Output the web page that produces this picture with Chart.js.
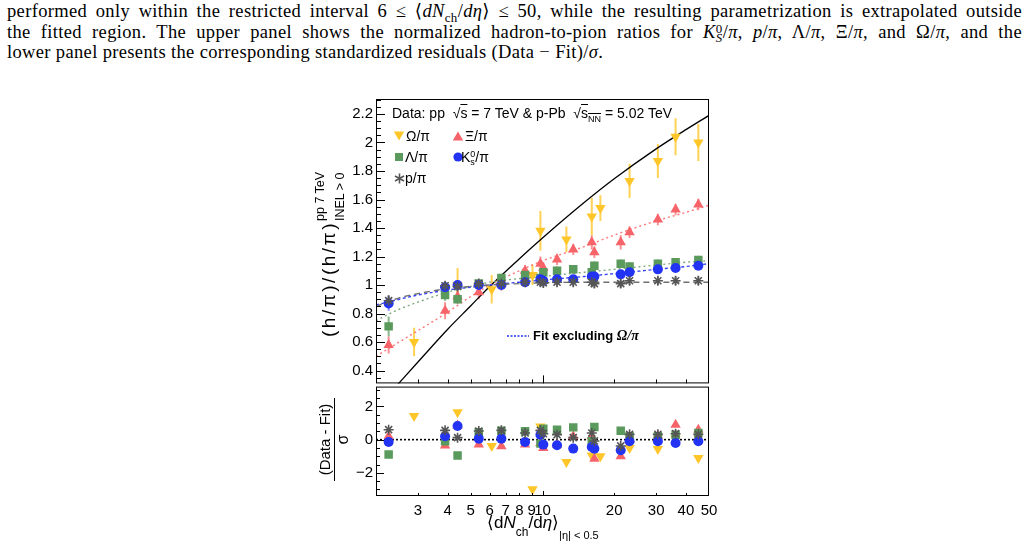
<!DOCTYPE html>
<html lang="en">
<head>
<meta charset="UTF-8">
<title>Hadron-to-pion ratios vs multiplicity</title>
<script src="https://cdn.jsdelivr.net/npm/chart.js"></script>
<style>
  * { margin: 0; padding: 0; box-sizing: border-box; }
  body {
    width: 1028px; height: 547px; position: relative; overflow: hidden;
    background: #fff; color: #000;
    font-family: 'Liberation Sans', Arial, sans-serif;
  }
  .para {
    position: absolute; left: 7px; top: 1px; width: 1015px;
    font-family: 'Liberation Serif', 'DejaVu Serif', serif;
    font-size: 18.5px; line-height: 20.5px; letter-spacing: 0.35px;
  }
  .para .j { text-align: justify; text-align-last: justify; }
  .para sub, .para sup { font-size: 0.7em; line-height: 0; }
  .ss { display: inline-block; font-size: 0.7em; line-height: 9px; vertical-align: -4px; }
  .ss span { display: block; }
  .box { position: absolute; }
  .rot { position: absolute; transform-origin: 0 0; transform: rotate(-90deg); white-space: nowrap; }
  .lbl { position: absolute; white-space: nowrap; line-height: 16px; }
  .mk { position: absolute; }
</style>
</head>
<body>

<div class="para">
  <div class="j">performed only within the restricted interval 6 &le; &lang;<i>dN</i><sub>ch</sub>/<i>d&eta;</i>&rang; &le; 50, while the resulting parametrization is extrapolated outside</div>
  <div class="j">the fitted region. The upper panel shows the normalized hadron-to-pion ratios for <i>K</i><span class="ss"><span>0</span><span><i>S</i></span></span>/<i>&pi;</i>, <i>p</i>/<i>&pi;</i>, &Lambda;/<i>&pi;</i>, &Xi;/<i>&pi;</i>, and &Omega;/<i>&pi;</i>, and the</div>
  <div>lower panel presents the corresponding standardized residuals (Data &minus; Fit)/<i>&sigma;</i>.</div>
</div>

<div class="box" style="left:300px; top:90px;"><canvas id="upper" width="420" height="300"></canvas></div>
<div class="box" style="left:300px; top:380px;"><canvas id="lower" width="420" height="167"></canvas></div>

<!-- legend -->
<div class="lbl" style="left:392px; top:105px; font-size:14px;">Data: pp &nbsp;&radic;<span style="text-decoration:overline">s</span> = 7 TeV &amp; p-Pb &nbsp;&radic;<span style="text-decoration:overline">s<sub style="font-size:9px">NN</sub></span> = 5.02 TeV</div>

<svg class="mk" style="left:393px; top:130px;" width="12" height="12"><polygon points="0.8,1.5 11.2,1.5 6,10.5" fill="#ffc629"/></svg>
<div class="lbl" style="left:406px; top:128px; font-size:14px;">&Omega;/&pi;</div>
<svg class="mk" style="left:452px; top:130px;" width="12" height="12"><polygon points="0.8,10.5 11.2,10.5 6,1.5" fill="#f6646a"/></svg>
<div class="lbl" style="left:465px; top:128px; font-size:14px;">&Xi;/&pi;</div>

<svg class="mk" style="left:394px; top:152px;" width="10" height="10"><rect x="1" y="1" width="8" height="8" fill="#5a9a5c"/></svg>
<div class="lbl" style="left:405px; top:149px; font-size:14px;">&Lambda;/&pi;</div>
<svg class="mk" style="left:453px; top:152px;" width="10" height="10"><circle cx="5" cy="5" r="4.6" fill="#2233f4"/></svg>
<div class="lbl" style="left:461px; top:149px; font-size:14px;">K<span class="ss" style="font-size:9px;line-height:8px;vertical-align:-3px"><span>0</span><span>s</span></span>/&pi;</div>

<svg class="mk" style="left:394px; top:173px;" width="11" height="11"><g stroke="#555" stroke-width="1.6"><line x1="5.5" y1="0.5" x2="5.5" y2="10.5"/><line x1="1" y1="3" x2="10" y2="8"/><line x1="1" y1="8" x2="10" y2="3"/></g></svg>
<div class="lbl" style="left:405px; top:170px; font-size:14px;">p/&pi;</div>

<svg class="mk" style="left:507px; top:334px;" width="22" height="4"><line x1="0" y1="2" x2="22" y2="2" stroke="#2233f4" stroke-width="1.3" stroke-dasharray="2,1.5"/></svg>
<div class="lbl" style="left:533px; top:328px; font-size:13px; font-weight:bold;">Fit excluding <i style="font-family:'Liberation Serif',serif;font-size:14px">&Omega;/&pi;</i></div>

<!-- axis titles -->
<div class="rot" style="left:312px; top:337px; height:34px; display:flex; align-items:center;">
  <span style="font-size:19px; line-height:20px; letter-spacing:2.5px;">(h/&pi;)/(h/&pi;)</span>
  <span style="display:inline-flex; flex-direction:column; row-gap:7px; font-size:12.5px; line-height:13px; position:relative; top:1px; margin-left:0px;">
    <span>pp 7 TeV</span><span>INEL &gt; 0</span>
  </span>
</div>

<div class="rot" style="left:316px; top:481px; width:83px; height:34px;">
  <div style="position:absolute; left:0; top:0; width:83px; text-align:center; font-size:15px; line-height:17px;">(Data - Fit)</div>
  <div style="position:absolute; left:0; top:18px; width:83px; height:1px; background:#000;"></div>
  <div style="position:absolute; left:0; top:19px; width:83px; text-align:center; font-size:16px; line-height:16px;">&sigma;</div>
</div>

<div class="lbl" style="left:487px; top:513px; font-size:17px; line-height:20px;">&lang;d<i>N</i><span style="font-size:12px; position:relative; top:8px;">ch</span>/d<i>&eta;</i>&rang;<span style="font-size:11px; position:relative; top:11px;">|&eta;| &lt; 0.5</span></div>

<script>
// multiplicity classes, <dNch/deta> (pp 7 TeV and p-Pb 5.02 TeV merged)
const xMult  = [2.26, 3.90, 4.4, 5.40, 6.72, 8.45, 9.8, 10.08, 11.51, 13.46, 16.1, 16.51, 21.3, 23.2, 30.5, 36.2, 45.1];
const xOmega = [2.89, 4.4, 6.12, 9.08, 9.8, 12.6, 16.1, 17.5, 23.2, 30.5, 36.2, 45.1];

// normalized ratios (upper panel)
const ratioOmega  = [0.60, 1.00, 0.97, 1.07, 1.38, 1.32, 1.48, 1.54, 1.73, 1.87, 2.04, 2.00];
const errOmega    = [0.10, 0.12, 0.10, 0.07, 0.14, 0.09, 0.13, 0.09, 0.12, 0.12, 0.13, 0.13];
const ratioXi     = [0.58, 0.82, 0.92, 0.95, 1.01, 1.10, 1.15, 1.12, 1.18, 1.25, 1.30, 1.23, 1.30, 1.37, 1.46, 1.53, 1.565];
const errXi       = [0.06, 0.06, 0.05, 0.05, 0.05, 0.04, 0.05, 0.04, 0.04, 0.04, 0.05, 0.04, 0.05, 0.04, 0.04, 0.04, 0.04];
const ratioLambda = [0.71, 0.93, 0.90, 1.01, 1.05, 1.07, 1.05, 1.09, 1.10, 1.11, 1.09, 1.135, 1.15, 1.13, 1.15, 1.16, 1.175];
const errLambda   = [0.07, 0.04, 0.03, 0.03, 0.03, 0.03, 0.03, 0.03, 0.03, 0.03, 0.03, 0.03, 0.03, 0.03, 0.03, 0.03, 0.03];
const ratioK0s    = [0.87, 0.985, 1.00, 1.00, 1.00, 1.02, 1.04, 1.03, 1.04, 1.04, 1.06, 1.06, 1.075, 1.09, 1.11, 1.12, 1.135];
const errK0s      = [0.05, 0.02, 0.02, 0.02, 0.02, 0.02, 0.02, 0.02, 0.02, 0.02, 0.02, 0.02, 0.02, 0.02, 0.02, 0.02, 0.02];
const ratioP      = [0.89, 0.995, 0.99, 1.01, 1.01, 1.02, 1.02, 1.015, 1.02, 1.02, 1.02, 1.01, 1.01, 1.03, 1.03, 1.03, 1.03];
const errP        = [0.04, 0.03, 0.03, 0.03, 0.03, 0.03, 0.03, 0.03, 0.03, 0.03, 0.03, 0.03, 0.03, 0.03, 0.03, 0.03, 0.03];

// fit curves
const fitX       = [2, 2.5, 3, 4, 5, 6, 8, 10, 15, 20, 30, 40, 50];
const fitXi      = [0.50, 0.60, 0.68, 0.81, 0.92, 1.00, 1.10, 1.17, 1.27, 1.35, 1.45, 1.51, 1.56];
const fitLambda  = [0.75, 0.83, 0.88, 0.95, 0.99, 1.02, 1.045, 1.06, 1.09, 1.11, 1.14, 1.16, 1.17];
const fitK0s     = [0.86, 0.90, 0.93, 0.965, 0.985, 1.00, 1.02, 1.035, 1.06, 1.08, 1.11, 1.13, 1.15];
const fitP       = [0.85, 0.91, 0.94, 0.975, 0.99, 1.00, 1.01, 1.015, 1.02, 1.02, 1.02, 1.02, 1.02];
const fitOmegaX  = [2.4, 3, 4, 5, 6, 7, 8, 10, 15, 20, 30, 40, 50];
const fitOmega   = [0.28, 0.46, 0.69, 0.855, 0.99, 1.095, 1.185, 1.33, 1.58, 1.745, 1.955, 2.09, 2.19];

// standardized residuals (lower panel)
const resOmega  = [1.42, 1.66, -0.38, -3.0, 0.8, -1.35, -0.95, -1.0, -0.5, -0.57, 0.05, -1.1];
const resXi     = [0.2, -0.36, 0.86, -0.3, -0.4, -0.3, -0.2, -0.5, -0.3, 0.2, 0.2, -1.15, -1.0, 0.0, 0.24, 0.9, 0.6];
const resLambda = [-0.89, -0.1, -0.95, 0.44, 0.54, 0.5, -0.24, 0.66, 0.6, 0.74, -0.1, 0.76, 0.54, 0.2, 0.2, 0.3, 0.4];
const resK0s    = [-0.14, 0.2, 0.82, 0.06, 0.06, -0.14, 0.3, -0.3, -0.34, -0.54, -0.44, -0.55, -0.64, -0.1, -0.1, -0.2, -0.1];
const resP      = [0.6, 0.56, 0.12, 0.52, 0.56, 0.4, 0.56, 0.36, 0.3, 0.12, 0.4, -0.08, -0.38, 0.32, 0.32, 0.36, 0.32];

// axis ticks
const xTickVals   = [3, 4, 5, 6, 7, 8, 9, 10, 20, 30, 40, 50];
const xTickLabels = ['3', '4', '5', '6', '7', '8', '9', '10', '20', '30', '40', '50'];
const yUpTicks    = [0.4, 0.6, 0.8, 1, 1.2, 1.4, 1.6, 1.8, 2, 2.2];
const yUpLabels   = ['0.4', '0.6', '0.8', '1', '1.2', '1.4', '1.6', '1.8', '2', '2.2'];
const yLoTicks    = [-2, 0, 2];
const yLoLabels   = ['\u22122', '0', '2'];

const colOmega = '#ffc629', colXi = '#f6646a', colLambda = '#5a9a5c', colK0s = '#2233f4', colP = '#555555';
const FONT = "'Liberation Sans', Arial, sans-serif";

const pts = (xs, ys) => xs.map((x, i) => ({ x: x, y: ys[i] }));

function minorList(lo, hi, step, skip) {
  const out = [];
  for (let v = lo; v <= hi + 1e-9; v += step) {
    const r = Math.round(v * 100) / 100;
    if (!skip.some(s => Math.abs(s - r) < 1e-6)) out.push(r);
  }
  return out;
}

// keep the plot frame exactly where the layout padding puts it
function noPad(s) {
  s.paddingTop = 0; s.paddingBottom = 0; s.paddingLeft = 0; s.paddingRight = 0;
}

// frame, inward ROOT-like ticks and error bars
const rootFrame = {
  id: 'rootFrame',
  beforeDatasetsDraw(chart) {
    const { ctx, chartArea: a } = chart;
    const ys = chart.scales.y;
    ctx.save();
    ctx.beginPath();
    ctx.rect(a.left, a.top, a.width, a.height);
    ctx.clip();
    chart.data.datasets.forEach((ds, i) => {
      if (!ds.errors) return;
      const meta = chart.getDatasetMeta(i);
      ctx.strokeStyle = ds.errColor;
      ctx.lineWidth = 2;
      meta.data.forEach((pt, j) => {
        const v = ds.data[j].y, e = ds.errors[j];
        ctx.beginPath();
        ctx.moveTo(pt.x, ys.getPixelForValue(v - e));
        ctx.lineTo(pt.x, ys.getPixelForValue(v + e));
        ctx.stroke();
      });
    });
    ctx.restore();
  },
  afterDraw(chart, args, opts) {
    const { ctx, chartArea: a, scales: { x, y } } = chart;
    ctx.save();
    ctx.strokeStyle = '#000';
    ctx.lineWidth = 1;
    ctx.strokeRect(a.left + 0.5, a.top + 0.5, a.width - 1, a.height - 1);
    ctx.beginPath();
    const hy = (v, len) => {
      const p = Math.round(y.getPixelForValue(v)) + 0.5;
      ctx.moveTo(a.left, p); ctx.lineTo(a.left + len, p);
    };
    const vx = (v, len) => {
      const p = Math.round(x.getPixelForValue(v)) + 0.5;
      ctx.moveTo(p, a.bottom); ctx.lineTo(p, a.bottom - len);
    };
    opts.yMajor.forEach(v => hy(v, opts.yMajorLen));
    opts.yMinor.forEach(v => hy(v, opts.yMinorLen));
    opts.xMajor.forEach(v => vx(v, opts.xMajorLen));
    opts.xMinor.forEach(v => vx(v, opts.xMinorLen));
    ctx.stroke();
    ctx.restore();
  }
};

const markerSets = (ys, withErr) => [
  { label: 'p/pi', data: pts(xMult, ys.p), pointStyle: 'star', pointRadius: 5, borderColor: colP, backgroundColor: colP, borderWidth: 1.6,
    errors: withErr ? errP : null, errColor: 'rgba(85,85,85,0.7)' },
  { label: 'K0s/pi', data: pts(xMult, ys.k), pointStyle: 'circle', pointRadius: 5, backgroundColor: colK0s, borderWidth: 0,
    errors: withErr ? errK0s : null, errColor: 'rgba(34,51,244,0.6)' },
  { label: 'Lambda/pi', data: pts(xMult, ys.l), pointStyle: 'rect', pointRadius: 6, backgroundColor: colLambda, borderWidth: 0,
    errors: withErr ? errLambda : null, errColor: 'rgba(90,154,92,0.7)' },
  { label: 'Xi/pi', data: pts(xMult, ys.xi), pointStyle: 'triangle', pointRadius: 6, backgroundColor: colXi, borderWidth: 0,
    errors: withErr ? errXi : null, errColor: 'rgba(246,100,106,0.7)' },
  { label: 'Omega/pi', data: pts(xOmega, ys.o), pointStyle: 'triangle', rotation: 180, pointRadius: 6, backgroundColor: colOmega, borderWidth: 0,
    errors: withErr ? errOmega : null, errColor: 'rgba(255,198,41,0.8)' }
];

const fitLine = (xs, ys, color, dash, w) => ({
  data: pts(xs, ys), showLine: true, pointRadius: 0, borderColor: color, borderWidth: w,
  borderDash: dash, cubicInterpolationMode: 'monotone', fill: false
});

const upper = new Chart(document.getElementById('upper'), {
  type: 'scatter',
  data: {
    datasets: [
      ...markerSets({ p: ratioP, k: ratioK0s, l: ratioLambda, xi: ratioXi, o: ratioOmega }, true),
      fitLine(fitX, fitP, '#707070', [6, 4], 1.4),
      fitLine(fitX, fitK0s, '#3344f6', [3, 2.5], 1.4),
      fitLine(fitX, fitLambda, '#7aaa7a', [2, 3], 1.4),
      fitLine(fitX, fitXi, '#f77', [2, 3], 1.4),
      fitLine(fitOmegaX, fitOmega, '#000', [], 1.3)
    ]
  },
  options: {
    responsive: false,
    devicePixelRatio: 1,
    animation: false,
    layout: { padding: { top: 9, right: 11, bottom: 5, left: 0 } },
    scales: {
      x: { type: 'logarithmic', min: 2, max: 50, display: false },
      y: {
        min: 0.31, max: 2.305,
        afterFit: s => { s.width = 76; noPad(s); },
        afterBuildTicks: s => { s.ticks = yUpTicks.map(v => ({ value: v })); },
        grid: { display: false, drawTicks: false },
        border: { display: false },
        ticks: { padding: 3, color: '#000', font: { family: FONT, size: 15 }, callback: (v, i) => yUpLabels[i] }
      }
    },
    plugins: {
      legend: { display: false },
      tooltip: { enabled: false },
      rootFrame: {
        yMajor: yUpTicks, yMinor: minorList(0.35, 2.3, 0.05, yUpTicks), yMajorLen: 9, yMinorLen: 5,
        xMajor: [10], xMinor: [3, 4, 5, 6, 7, 8, 9, 20, 30, 40], xMajorLen: 8, xMinorLen: 4
      }
    }
  },
  plugins: [rootFrame]
});

const lower = new Chart(document.getElementById('lower'), {
  type: 'scatter',
  data: {
    datasets: [
      ...markerSets({ p: resP, k: resK0s, l: resLambda, xi: resXi, o: resOmega }, false),
      { data: [{ x: 2, y: 0 }, { x: 50, y: 0 }], showLine: true, pointRadius: 0, borderColor: '#000', borderWidth: 1.6, borderDash: [2, 2] }
    ]
  },
  options: {
    responsive: false,
    devicePixelRatio: 1,
    animation: false,
    layout: { padding: { top: 6, right: 11, bottom: 0, left: 0 } },
    scales: {
      x: {
        type: 'logarithmic', min: 2, max: 50,
        afterFit: s => { s.height = 51; noPad(s); },
        afterBuildTicks: s => { s.ticks = xTickVals.map(v => ({ value: v })); },
        grid: { display: false, drawTicks: false },
        border: { display: false },
        ticks: { padding: 6, autoSkip: false, maxRotation: 0, color: '#000', font: { family: FONT, size: 15 }, callback: (v, i) => xTickLabels[i] }
      },
      y: {
        min: -3.4, max: 3.2,
        afterFit: s => { s.width = 76; noPad(s); },
        afterBuildTicks: s => { s.ticks = yLoTicks.map(v => ({ value: v })); },
        grid: { display: false, drawTicks: false },
        border: { display: false },
        ticks: { padding: 3, color: '#000', font: { family: FONT, size: 15 }, callback: (v, i) => yLoLabels[i] }
      }
    },
    plugins: {
      legend: { display: false },
      tooltip: { enabled: false },
      rootFrame: {
        yMajor: yLoTicks, yMinor: minorList(-3, 3, 0.5, yLoTicks), yMajorLen: 8, yMinorLen: 4,
        xMajor: [10], xMinor: [3, 4, 5, 6, 7, 8, 9, 20, 30, 40], xMajorLen: 5, xMinorLen: 3
      }
    }
  },
  plugins: [rootFrame]
});
</script>
</body>
</html>
